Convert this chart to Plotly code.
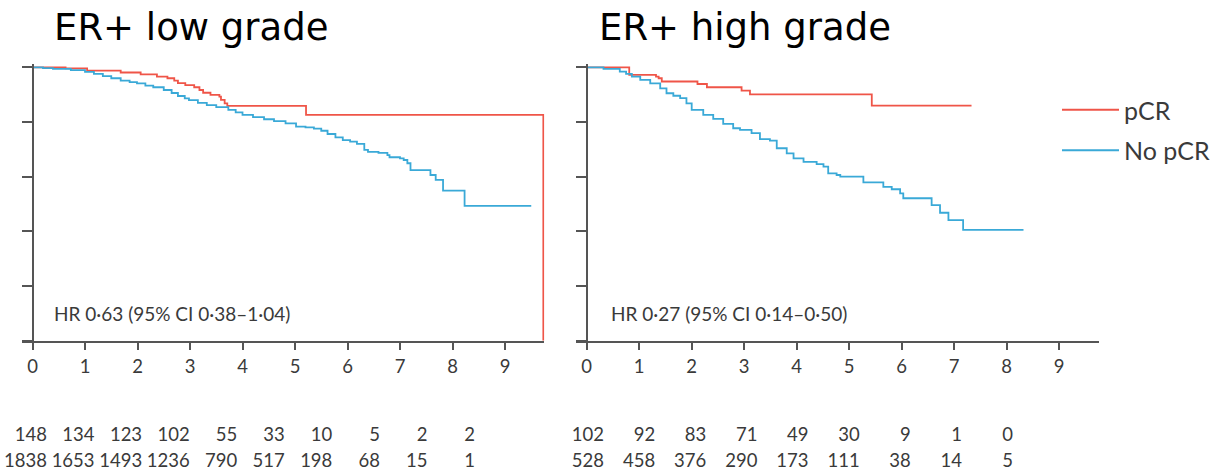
import plotly.graph_objects as go

W, H = 1222, 476

# ---------------- data ----------------
years = list(range(10))

low_pcr_t = [0, 0.63, 1.04, 1.68, 2.06, 2.37, 2.57, 2.70, 2.77, 2.91, 3.08, 3.18, 3.25, 3.39, 3.56, 3.59, 3.66, 3.71, 5.21, 9.73]
low_pcr_s = [1.0, 0.996, 0.988, 0.981, 0.974, 0.966, 0.960, 0.951, 0.942, 0.935, 0.927, 0.917, 0.907, 0.899, 0.893, 0.881, 0.868, 0.859, 0.826, 0.0]

low_nopcr_t = [0, 0.2, 0.39, 0.73, 1.0, 1.17, 1.34, 1.5, 1.68, 1.85, 1.99, 2.15, 2.3, 2.5, 2.65, 2.77, 2.9, 2.98,
               3.15, 3.32, 3.5, 3.73, 3.87, 4.0, 4.2, 4.41, 4.6, 4.82, 5.02, 5.2, 5.36, 5.5, 5.62, 5.77, 5.91, 6.05,
               6.18, 6.32, 6.39, 6.59, 6.76, 6.8, 7.0, 7.07, 7.14, 7.2, 7.58, 7.68, 7.82, 8.23, 9.5]
low_nopcr_s = [1.0, 0.997, 0.994, 0.990, 0.983, 0.976, 0.968, 0.960, 0.951, 0.946, 0.941, 0.933, 0.927, 0.917, 0.906, 0.895, 0.886, 0.880,
               0.870, 0.862, 0.854, 0.844, 0.835, 0.826, 0.818, 0.810, 0.803, 0.795, 0.783, 0.780, 0.776, 0.768, 0.756, 0.744, 0.734, 0.728,
               0.720, 0.698, 0.691, 0.687, 0.679, 0.671, 0.667, 0.661, 0.649, 0.624, 0.606, 0.588, 0.549, 0.493, 0.493]

high_pcr_t = [0, 0.81, 1.32, 1.37, 1.43, 2.11, 2.29, 2.95, 3.11, 5.43, 7.33]
high_pcr_s = [1.0, 0.972, 0.966, 0.960, 0.948, 0.939, 0.927, 0.915, 0.901, 0.860, 0.860]

high_nopcr_t = [0, 0.32, 0.63, 0.75, 0.86, 1.02, 1.21, 1.4, 1.52, 1.65, 1.78, 1.9, 2.0, 2.22, 2.41, 2.6, 2.79, 2.92,
                3.14, 3.3, 3.49, 3.62, 3.81, 3.94, 4.13, 4.38, 4.51, 4.6, 4.76, 4.83, 5.27, 5.65, 5.81, 5.97, 6.03,
                6.57, 6.73, 6.89, 7.17, 8.32]
high_nopcr_s = [1.0, 0.994, 0.984, 0.976, 0.966, 0.954, 0.941, 0.923, 0.905, 0.896, 0.887, 0.868, 0.844, 0.826, 0.811, 0.793, 0.777, 0.771,
                0.759, 0.737, 0.732, 0.704, 0.685, 0.667, 0.654, 0.646, 0.637, 0.612, 0.606, 0.600, 0.579, 0.563, 0.554, 0.539, 0.521,
                0.496, 0.468, 0.441, 0.405, 0.405]

low_risk_pcr = [148, 134, 123, 102, 55, 33, 10, 5, 2, 2]
low_risk_nopcr = [1838, 1653, 1493, 1236, 790, 517, 198, 68, 15, 1]
high_risk_pcr = [102, 92, 83, 71, 49, 30, 9, 1, 0]
high_risk_nopcr = [528, 458, 376, 290, 173, 111, 38, 14, 5]

titles = ["ER+ low grade", "ER+ high grade"]
hr_texts = ["HR 0·63 (95% CI 0·38–1·04)", "HR 0·27 (95% CI 0·14–0·50)"]
series_names = ["pCR", "No pCR"]

RED = "#EF5548"
BLUE = "#3AA9D7"
AXC = "#555555"
TXT = "#3a3a3a"
FONT = "Lato"

def px(x):
    return x / W

def py(y):
    return 1 - y / H

fig = go.Figure()

# KM curves
fig.add_trace(go.Scatter(x=low_pcr_t, y=low_pcr_s, mode="lines", line=dict(color=RED, width=1.8, shape="hv"),
                         name=series_names[0], legendgroup="a", xaxis="x", yaxis="y"))
fig.add_trace(go.Scatter(x=low_nopcr_t, y=low_nopcr_s, mode="lines", line=dict(color=BLUE, width=1.8, shape="hv"),
                         name=series_names[1], legendgroup="b", xaxis="x", yaxis="y"))
fig.add_trace(go.Scatter(x=high_pcr_t, y=high_pcr_s, mode="lines", line=dict(color=RED, width=1.8, shape="hv"),
                         name=series_names[0], legendgroup="a", showlegend=False, xaxis="x2", yaxis="y2"))
fig.add_trace(go.Scatter(x=high_nopcr_t, y=high_nopcr_s, mode="lines", line=dict(color=BLUE, width=1.8, shape="hv"),
                         name=series_names[1], legendgroup="b", showlegend=False, xaxis="x2", yaxis="y2"))

# number-at-risk tables
tfont = dict(family=FONT, size=18.5, color=TXT)
fig.add_trace(go.Scatter(x=years, y=[1] * len(low_risk_pcr), mode="text", text=[str(v) for v in low_risk_pcr],
                         textposition="middle left", textfont=tfont, showlegend=False, cliponaxis=False,
                         xaxis="x3", yaxis="y3"))
fig.add_trace(go.Scatter(x=years, y=[0] * len(low_risk_nopcr), mode="text", text=[str(v) for v in low_risk_nopcr],
                         textposition="middle left", textfont=tfont, showlegend=False, cliponaxis=False,
                         xaxis="x3", yaxis="y3"))
fig.add_trace(go.Scatter(x=years[:9], y=[1] * len(high_risk_pcr), mode="text", text=[str(v) for v in high_risk_pcr],
                         textposition="middle left", textfont=tfont, showlegend=False, cliponaxis=False,
                         xaxis="x4", yaxis="y4"))
fig.add_trace(go.Scatter(x=years[:9], y=[0] * len(high_risk_nopcr), mode="text", text=[str(v) for v in high_risk_nopcr],
                         textposition="middle left", textfont=tfont, showlegend=False, cliponaxis=False,
                         xaxis="x4", yaxis="y4"))

# geometry (pixels)
scale = 52.5           # px per year
xr = [-0.2, 9.75]
left_x0 = 32.5         # pixel of year 0, left panel
right_x0 = 586.7
y_top, y_bot = 67.3, 340.7
yr = [0, 1.012]
ppu = (y_bot - y_top)  # px per 1.0
y_dom = [py(y_bot), py(y_bot - ppu * yr[1])]

def xdom(x0):
    a = x0 + xr[0] * scale
    b = x0 + xr[1] * scale
    return [px(a), px(b)]

xcommon = dict(range=xr, tickmode="array", tickvals=years, ticks="outside", ticklen=8, tickwidth=1.5,
               tickcolor=AXC, showline=True, linecolor=AXC, linewidth=1.5, showgrid=False, zeroline=False,
               tickfont=dict(family=FONT, size=18.5, color=TXT), fixedrange=True)
ycommon = dict(range=yr, tickmode="array", tickvals=[0, 0.2, 0.4, 0.6, 0.8, 1.0], ticks="outside", ticklen=10,
               tickwidth=1.5, tickcolor=AXC, showline=True, linecolor=AXC, linewidth=1.5, showgrid=False,
               zeroline=False, showticklabels=False, anchor="free", fixedrange=True)

fig.update_layout(
    width=W, height=H, margin=dict(l=0, r=0, t=0, b=0),
    paper_bgcolor="white", plot_bgcolor="white",
    xaxis=dict(domain=xdom(left_x0), anchor="y", **xcommon),
    yaxis=dict(domain=y_dom, position=px(left_x0), **ycommon),
    xaxis2=dict(domain=xdom(right_x0), anchor="y2", **xcommon),
    yaxis2=dict(domain=y_dom, position=px(right_x0), **ycommon),
    xaxis3=dict(domain=[px(47), px(475)], range=[0, 9], visible=False, anchor="y3"),
    yaxis3=dict(domain=[py(462), py(436)], range=[0, 1], visible=False, anchor="x3"),
    xaxis4=dict(domain=[px(604), px(1013)], range=[0, 8], visible=False, anchor="y4"),
    yaxis4=dict(domain=[py(462), py(436)], range=[0, 1], visible=False, anchor="x4"),
    showlegend=True,
    legend=dict(x=px(1057), y=py(87), xanchor="left", yanchor="top", font=dict(family=FONT, size=25, color=TXT),
                bgcolor="rgba(0,0,0,0)", itemwidth=57, tracegroupgap=5),
    hovermode=False,
)

for t, xpix in zip(titles, [52, 597]):
    fig.add_annotation(text=t, xref="paper", yref="paper", x=px(xpix), y=py(27), xanchor="left", yanchor="middle",
                       showarrow=False, font=dict(family="DejaVu Sans", size=37, color="black"))
for t, xpix in zip(hr_texts, [52, 609]):
    fig.add_annotation(text=t, xref="paper", yref="paper", x=px(xpix), y=py(313), xanchor="left", yanchor="middle",
                       showarrow=False, font=dict(family=FONT, size=19, color=TXT))

fig.write_html("out.html")
